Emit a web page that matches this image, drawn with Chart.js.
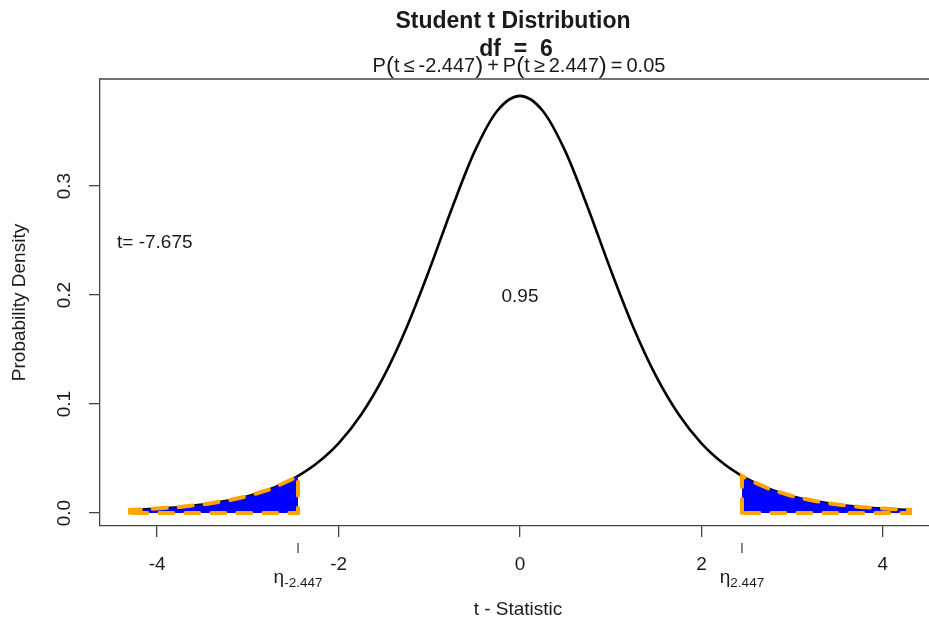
<!DOCTYPE html>
<html>
<head>
<meta charset="utf-8">
<script src="https://cdn.jsdelivr.net/npm/chart.js@4.4.1/dist/chart.umd.min.js"></script>
<style>
  html, body { margin: 0; padding: 0; background: #fff; overflow: hidden; }
</style>
</head>
<body>
<canvas id="myChart" width="960" height="623"></canvas>
<script>
// t values and the density (df = 6)
const tValues = [-4.3, -4.25, -4, -3.75, -3.5, -3.25, -3, -2.75, -2.5, -2.447, -2.25, -2, -1.75, -1.5, -1.25, -1, -0.75, -0.5, -0.25,
    0, 0.25, 0.5, 0.75, 1, 1.25, 1.5, 1.75, 2, 2.25, 2.447, 2.5, 2.75, 3, 3.25, 3.5, 3.75, 4, 4.25, 4.3];
const density = [0.0028, 0.0030, 0.0041, 0.0056, 0.0078, 0.0110, 0.0155, 0.0220, 0.0315, 0.0340, 0.0450, 0.0640, 0.0904, 0.1256, 0.1703, 0.2231, 0.2797, 0.3318, 0.3691,
    0.3827, 0.3691, 0.3318, 0.2797, 0.2231, 0.1703, 0.1256, 0.0904, 0.0640, 0.0450, 0.0340, 0.0315, 0.0220, 0.0155, 0.0110, 0.0078, 0.0056, 0.0041, 0.0030, 0.0028];
const xTicks = [-4, -2, 0, 2, 4];
const yTicks = [0, 0.1, 0.2, 0.3];
const yTickLabels = ["0.0", "0.1", "0.2", "0.3"];
const critical = [-2.447, 2.447];
const critLabels = ["-2.447", "2.447"];

const FONT = '"Liberation Sans", Arial, sans-serif';
const TEXT = "#1a1a1a";
const AXIS = "#444";

const curve = tValues.map((t, i) => ({ x: t, y: density[i] }));
const leftTail = curve.filter((p) => p.x <= critical[0]);
const rightTail = curve.filter((p) => p.x >= critical[1]);

// closed outline of a tail: along the curve, down to zero and back
function outline(pts) {
    const first = pts[0];
    const last = pts[pts.length - 1];
    return [{ x: first.x, y: 0 }, ...pts, { x: last.x, y: 0 }, { x: first.x, y: 0 }];
}

function tailFill(pts) {
    return {
        data: pts, fill: "origin", backgroundColor: "#0000ff",
        borderColor: "rgba(0,0,0,0)", borderWidth: 1, pointRadius: 0, tension: 0, order: 2,
    };
}

function tailBorder(pts) {
    return {
        data: outline(pts), fill: false, borderColor: "#ffa500", borderWidth: 4,
        borderDash: [14, 12], borderCapStyle: "round", pointRadius: 0, tension: 0, order: 1,
    };
}

// draw a row of text pieces centred on cx
function drawPieces(ctx, pieces, cx, baseY) {
    let total = 0;
    pieces.forEach((p) => {
        ctx.font = p.font;
        p.w = ctx.measureText(p.text).width;
        total += p.w;
    });
    let xx = cx - total / 2;
    ctx.textAlign = "left";
    ctx.textBaseline = "alphabetic";
    pieces.forEach((p) => {
        ctx.font = p.font;
        ctx.fillText(p.text, xx, baseY + (p.dy || 0));
        xx += p.w;
    });
}

const extras = {
    id: "extras",
    afterDraw(chart) {
        const { ctx, chartArea, scales } = chart;
        const x = scales.x;
        const y = scales.y;
        ctx.save();
        ctx.fillStyle = TEXT;

        // top side of the box
        ctx.strokeStyle = AXIS;
        ctx.lineWidth = 1.3;
        ctx.beginPath();
        ctx.moveTo(chartArea.left, chartArea.top);
        ctx.lineTo(chartArea.right, chartArea.top);
        ctx.stroke();

        // y tick labels, turned like R does
        ctx.font = "19px " + FONT;
        ctx.textAlign = "center";
        ctx.textBaseline = "middle";
        yTicks.forEach((v, i) => {
            ctx.save();
            ctx.translate(65, y.getPixelForValue(v));
            ctx.rotate(-Math.PI / 2);
            ctx.fillText(yTickLabels[i], 0, 0);
            ctx.restore();
        });

        // axis titles
        ctx.save();
        ctx.translate(20, (chartArea.top + chartArea.bottom) / 2);
        ctx.rotate(-Math.PI / 2);
        ctx.fillText("Probability Density", 0, 0);
        ctx.restore();
        ctx.fillText("t - Statistic", 518, 610);

        // text in the plot
        ctx.fillText("0.95", x.getPixelForValue(0), 297);
        ctx.textAlign = "left";
        ctx.fillText("t= -7.675", 117, 243);

        // titles
        ctx.textAlign = "center";
        ctx.textBaseline = "alphabetic";
        ctx.font = "bold 23px " + FONT;
        ctx.fillText("Student t Distribution", 513, 28);
        ctx.fillText("df  =  6", 516, 56);

        const f = "20px " + FONT;
        const fp = "24px " + FONT;
        drawPieces(ctx, [
            { text: "P", font: f },
            { text: "(", font: fp, dy: 1 },
            { text: "t\u2009\u2264\u2009-2.447", font: f },
            { text: ")", font: fp, dy: 1 },
            { text: "\u2009+\u2009P", font: f },
            { text: "(", font: fp, dy: 1 },
            { text: "t\u2009\u2265\u20092.447", font: f },
            { text: ")", font: fp, dy: 1 },
            { text: "\u2009=\u20090.05", font: f },
        ], 519, 72);

        // second axis at the critical values
        critical.forEach((c, i) => {
            const px = x.getPixelForValue(c);
            ctx.strokeStyle = AXIS;
            ctx.lineWidth = 1.3;
            ctx.beginPath();
            ctx.moveTo(px, 543);
            ctx.lineTo(px, 553);
            ctx.stroke();
            drawPieces(ctx, [
                { text: "\u03b7", font: "19px " + FONT },
                { text: critLabels[i], font: "13.5px " + FONT, dy: 4 },
            ], px, 583);
        });
        ctx.restore();
    },
};

const ctx = document.getElementById("myChart");
new Chart(ctx, {
    type: "line",
    data: {
        datasets: [
            {
                data: curve, borderColor: "#000", borderWidth: 2.6, pointRadius: 0,
                cubicInterpolationMode: "monotone", fill: false, order: 3,
            },
            tailFill(leftTail),
            tailFill(rightTail),
            tailBorder(leftTail),
            tailBorder(rightTail),
        ],
    },
    options: {
        responsive: false,
        animation: false,
        devicePixelRatio: 1,
        layout: { padding: { top: 79, right: 20, left: 0, bottom: 0 } },
        plugins: { legend: { display: false }, tooltip: { enabled: false } },
        scales: {
            x: {
                type: "linear",
                min: -4.63,
                max: 4.63,
                afterBuildTicks: (s) => { s.ticks = xTicks.map((v) => ({ value: v })); },
                afterFit: (s) => { s.height = 97; },
                grid: { drawOnChartArea: false, tickLength: 11, color: AXIS, lineWidth: 1.3 },
                border: { color: AXIS, width: 1.3 },
                ticks: {
                    font: { family: FONT, size: 19 }, color: TEXT, padding: 16,
                    maxRotation: 0, autoSkip: false, callback: (v) => String(v),
                },
            },
            y: {
                type: "linear",
                min: -0.0119,
                max: 0.3982,
                afterBuildTicks: (s) => { s.ticks = yTicks.map((v) => ({ value: v })); },
                afterFit: (s) => { s.width = 100; },
                grid: { drawOnChartArea: false, tickLength: 11, color: AXIS, lineWidth: 1.3 },
                border: { color: AXIS, width: 1.3 },
                ticks: { color: "rgba(0,0,0,0)", font: { family: FONT, size: 19 } },
            },
        },
    },
    plugins: [extras],
});
</script>
</body>
</html>
